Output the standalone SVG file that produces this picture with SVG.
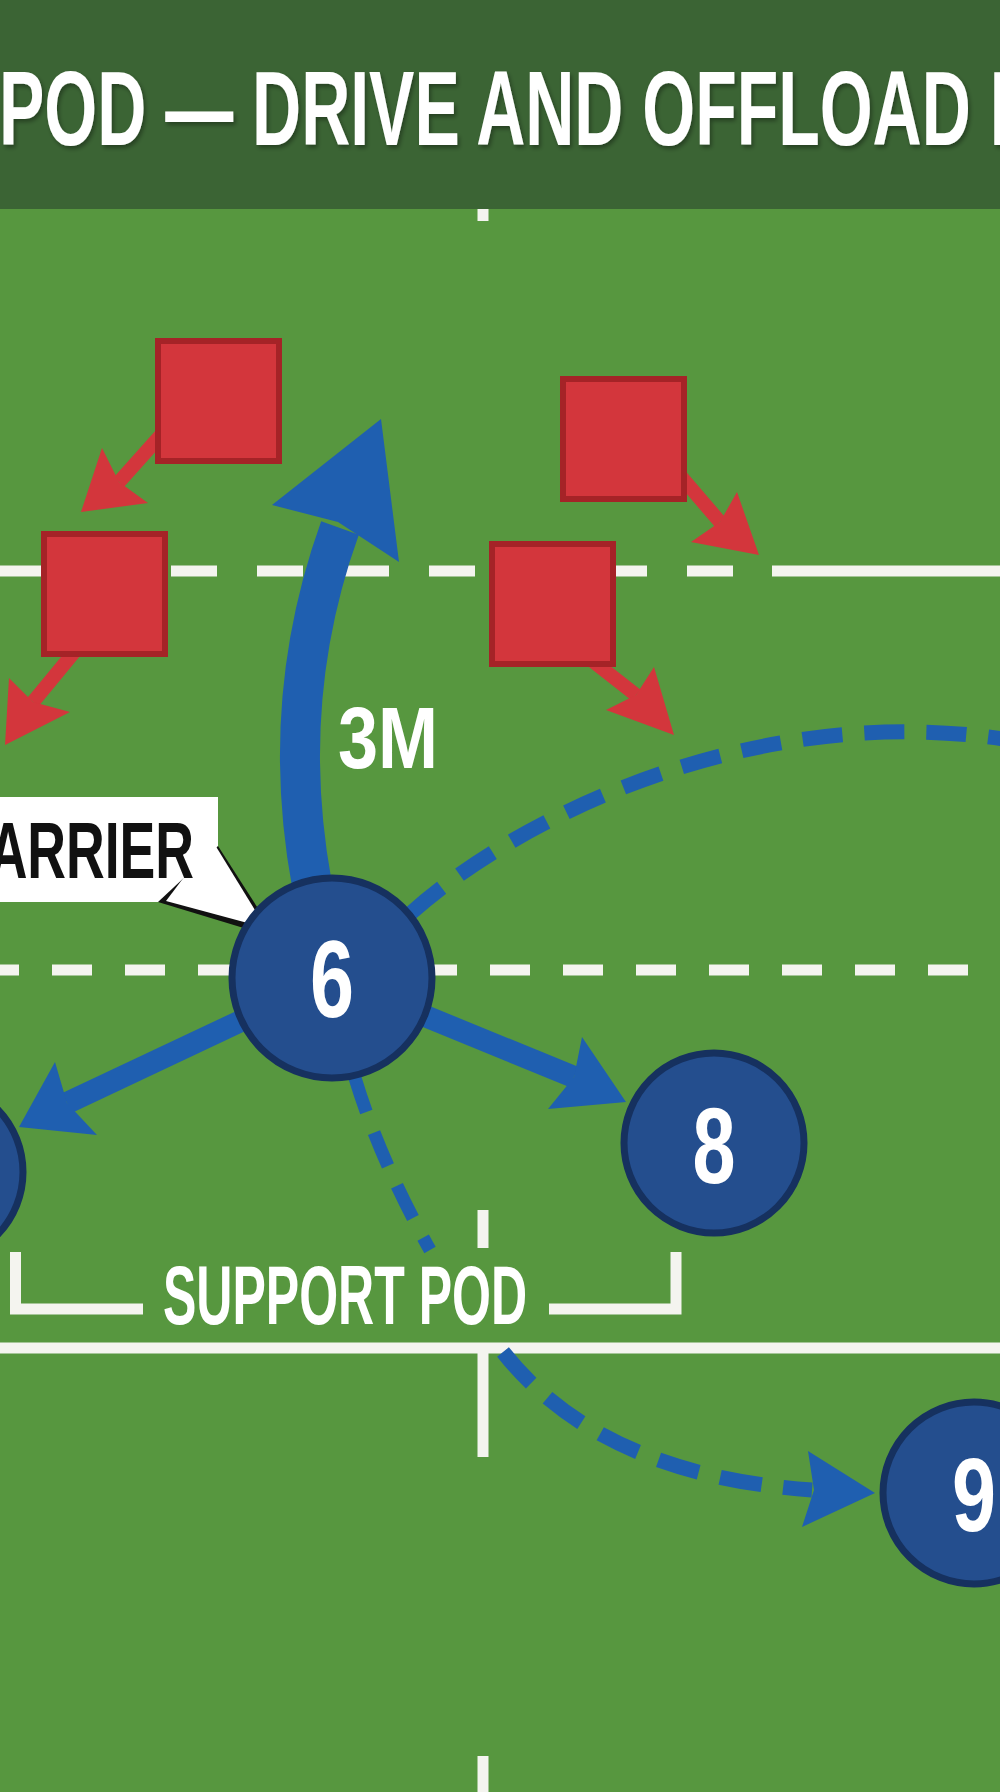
<svg xmlns="http://www.w3.org/2000/svg" width="1000" height="1792" viewBox="0 0 1000 1792">
<defs>
<style>
.fl{stroke:#f4f4ef;stroke-width:11;fill:none}
.red{fill:#d3363c}
.rsh{stroke:#d3363c;stroke-width:14;fill:none}
.sq{fill:#d3363c;stroke:#a52327;stroke-width:6}
.blu{fill:#1f5fb0}
.bsh{stroke:#1f5fb0;fill:none}
.nd{fill:#244e8e;stroke:#16315f;stroke-width:7}
.t{font-family:"Liberation Sans",Arial,sans-serif;font-weight:700}
.w{fill:#ffffff}
</style>
<filter id="sh" x="-5%" y="-20%" width="110%" height="140%">
<feDropShadow dx="2" dy="3" stdDeviation="2" flood-color="#000" flood-opacity="0.35"/>
</filter>
</defs>

<rect x="0" y="0" width="1000" height="1792" fill="#57973f"/>

<g id="field-lines">
<line class="fl" x1="483" y1="209" x2="483" y2="221"/>
<line class="fl" x1="-1" y1="571" x2="772" y2="571" stroke-dasharray="46 40"/>
<line class="fl" x1="772" y1="571" x2="1000" y2="571"/>
<line class="fl" x1="-21" y1="970" x2="968" y2="970" stroke-dasharray="40 33"/>
<line class="fl" x1="0" y1="1348" x2="1000" y2="1348"/>
<line class="fl" x1="483" y1="1210" x2="483" y2="1248"/>
<line class="fl" x1="483" y1="1348" x2="483" y2="1457"/>
<line class="fl" x1="483" y1="1756" x2="483" y2="1792"/>
</g>

<g id="header">
<rect x="0" y="0" width="1000" height="209" fill="#3b6434"/>
<text class="t w" x="-1" y="145" font-size="106" textLength="1036" lengthAdjust="spacingAndGlyphs" filter="url(#sh)">POD — DRIVE AND OFFLOAD E</text>
</g>

<g id="connectors">
<!-- red defender arrows -->
<line class="rsh" x1="170" y1="425" x2="119" y2="482"/>
<polygon class="red" points="81,512 102,448 119,482 148,503"/>
<line class="rsh" x1="80" y1="645" x2="33" y2="702"/>
<polygon class="red" points="5,745 9,678 33,702 70,712"/>
<line class="rsh" x1="672" y1="466" x2="720" y2="522"/>
<polygon class="red" points="759,555 737,492 720,522 691,542"/>
<line class="rsh" x1="585" y1="655" x2="636" y2="695"/>
<polygon class="red" points="674,735 654,667 636,695 606,710"/>

<!-- carrier drive -->
<path class="bsh" stroke-width="40" d="M 312 885 Q 278 700 340 528"/>
<polygon class="blu" points="381,419 399,562 338,522 272,505"/>

<!-- pops / short passes -->
<line class="bsh" stroke-width="22" x1="332" y1="978" x2="67" y2="1103"/>
<polygon class="blu" points="19,1127 55,1062 67,1103 97,1135"/>
<line class="bsh" stroke-width="22" x1="332" y1="978" x2="574" y2="1077"/>
<polygon class="blu" points="626,1102 582,1037 574,1077 548,1109"/>

<!-- dashed support lines -->
<path class="bsh" stroke-width="15" stroke-dasharray="40 22" d="M 411 913 C 520 815, 760 700, 1010 740"/>
<path class="bsh" stroke-width="13" stroke-dasharray="36 22" d="M 355 1078 Q 380 1160 430 1250"/>
<path class="bsh" stroke-width="15" stroke-dasharray="42 22" d="M 503 1352 Q 600 1475 812 1490"/>
<polygon class="blu" points="875,1493 808,1451 814,1490 802,1527"/>
</g>

<g id="defender-1"><rect class="sq" x="158" y="341" width="121" height="120"/></g>
<g id="defender-2"><rect class="sq" x="44" y="534" width="121" height="120"/></g>
<g id="defender-3"><rect class="sq" x="563" y="379" width="121" height="120"/></g>
<g id="defender-4"><rect class="sq" x="492" y="544" width="121" height="120"/></g>

<g id="callout-carrier">
<rect x="-5" y="797" width="223" height="105" fill="#ffffff"/>
<polygon points="218,846 277,938 158,902" fill="#111"/>
<polygon points="212,840 266,928 166,901" fill="#ffffff"/>
<text class="t" x="-50" y="878" font-size="80" fill="#111" textLength="244" lengthAdjust="spacingAndGlyphs">CARRIER</text>
</g>

<g id="node-6">
<circle class="nd" cx="332" cy="978" r="100"/>
<text class="t w" x="332" y="1017" font-size="109" text-anchor="middle" textLength="44" lengthAdjust="spacingAndGlyphs">6</text>
</g>
<g id="node-8">
<circle class="nd" cx="714" cy="1143" r="90"/>
<text class="t w" x="714" y="1183" font-size="107" text-anchor="middle" textLength="43" lengthAdjust="spacingAndGlyphs">8</text>
</g>
<g id="node-9">
<circle class="nd" cx="974" cy="1493" r="91"/>
<text class="t w" x="974" y="1531" font-size="104" text-anchor="middle" textLength="44" lengthAdjust="spacingAndGlyphs">9</text>
</g>
<g id="node-7">
<circle class="nd" cx="-67" cy="1172" r="90"/>
</g>

<g id="label-3m">
<text class="t w" x="338" y="768" font-size="88" textLength="100" lengthAdjust="spacingAndGlyphs">3M</text>
</g>

<g id="support-pod">
<polyline class="fl" points="15.5,1252 15.5,1309 143,1309" stroke-width="10"/>
<polyline class="fl" points="549,1309 676,1309 676,1252" stroke-width="10"/>
<text class="t w" x="163" y="1324" font-size="84" textLength="364" lengthAdjust="spacingAndGlyphs">SUPPORT POD</text>
</g>
</svg>
